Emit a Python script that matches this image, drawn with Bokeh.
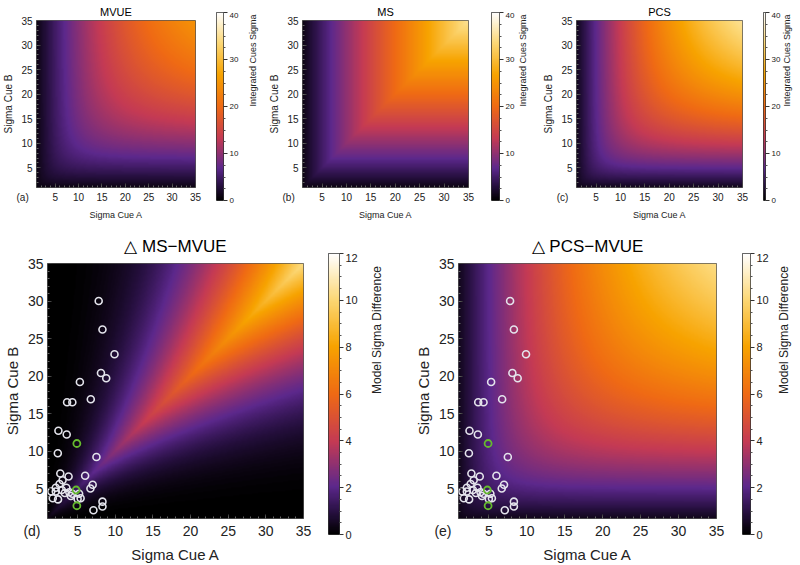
import math
import numpy as np
from bokeh.plotting import figure
from bokeh.layouts import column, row
from bokeh.models import LinearColorMapper, FixedTicker, Spacer
from bokeh.embed import file_html
from bokeh.resources import INLINE

# ---------------- data ----------------
sigma_min, sigma_max = 1.0, 35.0
axis_ticks = [5, 10, 15, 20, 25, 30, 35]
cue_cbar_ticks = [0, 10, 20, 30, 40]
diff_cbar_ticks = [0, 2, 4, 6, 8, 10, 12]
cue_range = (0, 40)
diff_range = (0, 12)

# observed cue sigmas (white circles)
obs_sigma_a = [7.8, 8.3, 9.9, 8.1, 8.8, 5.3, 3.6, 4.3, 6.75, 2.45, 3.55, 2.37, 7.5,
               2.7, 3.8, 3.0, 6.0, 2.6, 7.0, 6.7, 2.1, 3.5, 1.5, 2.1, 3.9, 4.3,
               4.1, 5.2, 1.7, 2.4, 5.0, 5.4, 7.1, 8.3, 8.3, 2.9, 3.3]
obs_sigma_b = [30.0, 26.2, 22.9, 20.4, 19.7, 19.2, 16.5, 16.5, 16.9, 12.7, 12.2, 9.7, 9.2,
               7.0, 6.6, 6.1, 6.7, 5.6, 5.5, 5.0, 5.1, 5.1, 4.6, 4.6, 4.5, 4.3,
               4.0, 4.3, 3.7, 3.55, 3.6, 3.7, 2.1, 3.25, 2.6, 4.8, 4.4]
# highlighted cue sigmas (green circles)
hl_sigma_a = [4.9, 4.8, 4.9]
hl_sigma_b = [11.0, 4.8, 2.7]

# model surfaces over the cue-sigma grid
n = 400
s = np.linspace(sigma_min, sigma_max, n)
A, B = np.meshgrid(s, s)
mvue = np.sqrt(A**2 * B**2 / (A**2 + B**2))
ms = np.minimum(A, B)
pcs = np.sqrt(2.0 * A**2 * B**2 / (A**2 + B**2))

# ---------------- style ----------------
FONT = "Liberation Sans"
NBSP = "\u00a0"
anchors = [(0.0, (0, 0, 0)), (0.08, (40, 16, 66)), (0.17, (92, 40, 140)),
           (0.33, (196, 58, 84)), (0.5, (239, 106, 20)), (0.67, (247, 163, 0)),
           (0.84, (252, 216, 119)), (1.0, (255, 255, 255))]


def build_palette(nc=256):
    out = []
    for i in range(nc):
        t = i / (nc - 1)
        for (p0, c0), (p1, c1) in zip(anchors[:-1], anchors[1:]):
            if p0 <= t <= p1:
                f = (t - p0) / (p1 - p0)
                c = [round(c0[k] + f * (c1[k] - c0[k])) for k in range(3)]
                out.append("#%02x%02x%02x" % tuple(c))
                break
    return out


PAL = build_palette()


def make_panel(data, rng, title, letter, w, h, bl, br, bt, bb, big):
    tick_fs = "14px" if big else "10px"
    alab_fs = "15px" if big else "10px"
    xlab_fs = "15px" if big else "9px"
    title_fs = "17px" if big else "11px"
    mapper = LinearColorMapper(palette=PAL, low=rng[0], high=rng[1])
    p = figure(width=w, height=h, x_range=(sigma_min, sigma_max), y_range=(sigma_min, sigma_max),
               output_backend="svg", toolbar_location=None,
               min_border_left=bl, min_border_right=br, min_border_top=bt, min_border_bottom=bb,
               title=title)
    p.image(image=[data], x=sigma_min, y=sigma_min, dw=sigma_max - sigma_min, dh=sigma_max - sigma_min,
            color_mapper=mapper)
    p.grid.visible = False
    p.outline_line_color = "#555555"
    p.title.align = "center"
    p.title.text_font = FONT
    p.title.text_font_style = "normal"
    p.title.text_font_size = title_fs
    p.title.text_color = "black"
    p.title.standoff = 16 if big else 6
    p.xaxis.axis_label = "Sigma Cue A"
    p.yaxis.axis_label = "Sigma Cue B"
    for ax in (p.xaxis[0], p.yaxis[0]):
        ax.axis_line_color = None
        ax.major_tick_in = 4
        ax.major_tick_out = 0
        ax.minor_tick_in = 2
        ax.minor_tick_out = 0
        ax.major_tick_line_color = "#444444"
        ax.minor_tick_line_color = "#666666"
        ax.major_label_text_font = FONT
        ax.major_label_text_font_size = tick_fs
        ax.major_label_text_color = "#222222"
        ax.major_label_standoff = 4
        ax.axis_label_text_font = FONT
        ax.axis_label_text_font_style = "normal"
        ax.axis_label_text_color = "#222222"
        ax.axis_label_standoff = 4
    p.yaxis.ticker = FixedTicker(ticks=axis_ticks, minor_ticks=list(range(2, 35)))
    # panel letter rides on the x axis at the range start, padded to sit left of the frame
    p.xaxis.ticker = FixedTicker(ticks=[sigma_min] + axis_ticks, minor_ticks=list(range(2, 35)))
    pad = NBSP * (8 if big else 10)
    p.xaxis.major_label_overrides = {sigma_min: letter + pad}
    p.xaxis.axis_label_text_font_size = xlab_fs
    p.yaxis.axis_label_text_font_size = alab_fs
    return p


def make_cbar(rng, cticks, clabel, w, h, br, bt, bb, big, standoff):
    cb_fs = "11px" if big else "8px"
    clab_fs = "12px" if big else "9px"
    mapper = LinearColorMapper(palette=PAL, low=rng[0], high=rng[1])
    c = figure(width=w, height=h - bt, x_range=(0, 1), y_range=rng,
               output_backend="svg", toolbar_location=None,
               x_axis_location=None, y_axis_location="right",
               min_border_left=0, min_border_right=br, min_border_top=0, min_border_bottom=bb)
    grad = np.linspace(rng[0], rng[1], 256).reshape(256, 1)
    c.image(image=[grad], x=0, y=rng[0], dw=1, dh=rng[1] - rng[0], color_mapper=mapper)
    c.grid.visible = False
    c.outline_line_color = "#333333"
    ax = c.yaxis[0]
    step = cticks[1] - cticks[0]
    ax.ticker = FixedTicker(ticks=cticks,
                            minor_ticks=[t + step * k / 4 for t in cticks[:-1] for k in range(1, 4)])
    ax.axis_line_color = None
    ax.major_tick_in = 0
    ax.major_tick_out = 4
    ax.minor_tick_in = 0
    ax.minor_tick_out = 2
    ax.major_tick_line_color = "#333333"
    ax.minor_tick_line_color = "#555555"
    ax.major_label_text_font = FONT
    ax.major_label_text_font_size = cb_fs
    ax.major_label_text_color = "#222222"
    ax.major_label_standoff = 2
    ax.axis_label = clabel
    ax.axis_label_text_font = FONT
    ax.axis_label_text_font_style = "normal"
    ax.axis_label_text_font_size = clab_fs
    ax.axis_label_text_color = "#222222"
    ax.axis_label_standoff = standoff
    ax.axis_label_orientation = math.pi / 2
    # wrap in its own column (top spacer) so its bar is not aligned to the panel frame
    return column(Spacer(width=w, height=bt), c)


# top row: panels + their colour bars (heights 222)
pa = make_panel(mvue, cue_range, "MVUE", "(a)", 216, 222, 29, 21, 19, 31, False)
ca = make_cbar(cue_range, cue_cbar_ticks, "Integrated Cues Sigma", 50, 222, 42, 12, 22, False, 12)
pb = make_panel(ms, cue_range, "MS", "(b)", 225, 222, 36, 23, 19, 31, False)
cb = make_cbar(cue_range, cue_cbar_ticks, "Integrated Cues Sigma", 45, 222, 37, 12, 22, False, 6)
pc = make_panel(pcs, cue_range, "PCS", "(c)", 227, 222, 40, 21, 19, 31, False)
cc = make_cbar(cue_range, cue_cbar_ticks, "Integrated Cues Sigma", 37, 222, 29, 12, 22, False, 4)

# bottom row (heights 343)
pd = make_panel(ms - mvue, diff_range, "\u25b3 MS\u2212MVUE", "(d)", 328, 343, 45, 25, 41, 45, True)
cd = make_cbar(diff_range, diff_cbar_ticks, "Model Sigma Difference", 72, 343, 61, 31, 31, True, 16)
pe = make_panel(pcs - mvue, diff_range, "\u25b3 PCS\u2212MVUE", "(e)", 342, 343, 58, 26, 41, 45, True)
ce = make_cbar(diff_range, diff_cbar_ticks, "Model Sigma Difference", 58, 343, 46, 31, 31, True, 12)

for p in (pd, pe):
    p.scatter(obs_sigma_a, obs_sigma_b, marker="circle", size=7, fill_color=None,
              line_color="#e4e4ec", line_width=1.6)
    p.scatter(hl_sigma_a, hl_sigma_b, marker="circle", size=7, fill_color=None,
              line_color="#66bb2e", line_width=1.8)

layout = column(row(pa, ca, pb, cb, pc, cc), row(pd, cd, pe, ce))
open("out.html", "w").write(file_html(layout, INLINE))
